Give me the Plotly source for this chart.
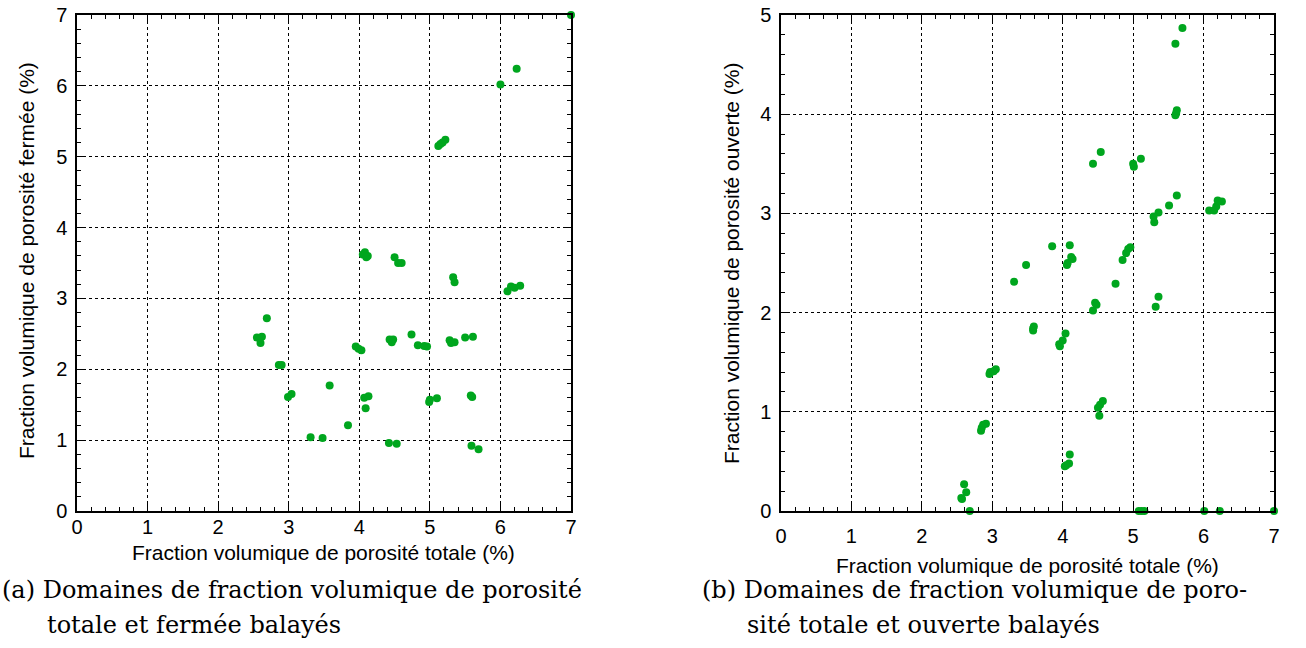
import plotly.graph_objects as go

# ---- data: (a) total vs closed porosity ----
tot_a = [7.00, 6.00, 6.23, 5.12, 5.15, 5.18, 5.22,
         4.05, 4.08, 4.12, 4.10, 4.50, 4.55, 4.60, 5.33, 5.35,
         6.10, 6.15, 6.20, 6.28,
         2.69, 2.55, 2.62, 2.60, 2.86, 2.90, 2.99, 3.04, 3.58, 3.31, 3.48, 3.84,
         3.95, 4.03, 3.99, 4.07, 4.13, 4.09, 4.43, 4.46, 4.48, 4.74, 4.83, 4.92, 4.96,
         4.42, 4.53, 4.99, 5.00, 5.10,
         5.28, 5.30, 5.35, 5.50, 5.61, 5.58, 5.60, 5.59, 5.69]
closed_a = [7.00, 6.02, 6.24, 5.15, 5.18, 5.20, 5.24,
            3.62, 3.65, 3.60, 3.58, 3.58, 3.50, 3.50, 3.30, 3.23,
            3.10, 3.17, 3.15, 3.18,
            2.72, 2.45, 2.46, 2.37, 2.06, 2.06, 1.61, 1.65, 1.77, 1.04, 1.03, 1.21,
            2.32, 2.27, 2.29, 1.60, 1.62, 1.45, 2.42, 2.38, 2.42, 2.49, 2.34, 2.33, 2.32,
            0.96, 0.95, 1.54, 1.57, 1.59,
            2.41, 2.37, 2.38, 2.45, 2.46, 1.63, 1.61, 0.92, 0.87]

# ---- data: (b) total vs open porosity ----
tot_b = [5.70, 5.60, 5.62, 5.60, 5.61, 4.54, 4.43, 5.00, 5.01, 5.11,
         5.62, 5.51, 5.36, 5.29, 5.30, 6.08, 6.15, 6.18, 6.20, 6.26,
         3.85, 4.10, 4.12, 4.14, 4.06, 4.07, 3.48, 3.31,
         4.96, 4.93, 4.90, 4.85, 4.75, 5.36, 5.32, 4.46, 4.48, 4.43,
         2.84, 2.85, 2.87, 2.91, 4.57, 4.53, 4.50, 4.52,
         4.10, 4.09, 4.03, 4.05, 2.60, 2.63, 2.56, 2.57, 2.68,
         5.08, 5.12, 5.16, 6.01, 6.23, 7.00,
         2.96, 2.97, 3.02, 3.05, 3.58, 3.58, 3.59, 4.04, 4.00, 3.95, 3.96]
open_b = [4.87, 4.71, 4.04, 3.99, 4.01, 3.62, 3.50, 3.50, 3.47, 3.55,
          3.18, 3.08, 3.01, 2.97, 2.91, 3.03, 3.03, 3.07, 3.13, 3.12,
          2.67, 2.68, 2.56, 2.54, 2.48, 2.50, 2.48, 2.31,
          2.66, 2.64, 2.60, 2.53, 2.29, 2.16, 2.06, 2.10, 2.08, 2.02,
          0.81, 0.84, 0.87, 0.88, 1.11, 1.07, 1.04, 0.96,
          0.57, 0.48, 0.45, 0.46, 0.27, 0.19, 0.13, 0.12, 0.00,
          0.00, 0.00, 0.00, 0.00, 0.00, 0.00,
          1.38, 1.40, 1.41, 1.43, 1.84, 1.82, 1.86, 1.79, 1.72, 1.68, 1.66]

x_ticks = [0, 1, 2, 3, 4, 5, 6, 7]
y_ticks_a = [0, 1, 2, 3, 4, 5, 6, 7]
y_ticks_b = [0, 1, 2, 3, 4, 5]

GREEN = "#00a61e"
W, H = 1306, 648

def px_x(p):
    return p / W

def px_y(p):
    return 1 - p / H

fig = go.Figure()
fig.add_trace(go.Scatter(x=tot_a, y=closed_a, mode="markers", xaxis="x", yaxis="y",
                         marker=dict(color=GREEN, size=8, line=dict(width=0)),
                         cliponaxis=False, showlegend=False))
fig.add_trace(go.Scatter(x=tot_b, y=open_b, mode="markers", xaxis="x2", yaxis="y2",
                         marker=dict(color=GREEN, size=8, line=dict(width=0)),
                         cliponaxis=False, showlegend=False))

tick_font = dict(family="Liberation Sans, Arial, sans-serif", size=20, color="black")

def axis_common():
    return dict(showline=True, linecolor="black", linewidth=1.5, mirror="ticks",
                ticks="inside", ticklen=8, tickcolor="black", tickwidth=1.2,
                showgrid=True, gridcolor="black", griddash="dot", gridwidth=1,
                zeroline=False, tickfont=tick_font, automargin=False,
                ticklabeloverflow="allow",
                minor=dict(ticks="inside", ticklen=4, dtick=0.2, tickcolor="black",
                           tickwidth=1, showgrid=False))

yd = [px_y(511), px_y(15)]
fig.update_layout(
    width=W, height=H, margin=dict(l=0, r=0, t=0, b=0, pad=0, autoexpand=False),
    paper_bgcolor="white", plot_bgcolor="white",
    xaxis=dict(**axis_common(), domain=[px_x(77), px_x(571)], range=[0, 7],
               tickvals=x_ticks, anchor="y", ticklabelstandoff=-3),
    yaxis=dict(**axis_common(), domain=yd, range=[0, 7], tickvals=y_ticks_a,
               anchor="x", ticklabelstandoff=4),
    xaxis2=dict(**axis_common(), domain=[px_x(781), px_x(1274)], range=[0, 7],
                tickvals=x_ticks, anchor="y2", ticklabelstandoff=6),
    yaxis2=dict(**axis_common(), domain=yd, range=[0, 5], tickvals=y_ticks_b,
                anchor="x2", ticklabelstandoff=4),
)

title_font = dict(family="Liberation Sans, Arial, sans-serif", size=21, color="black")
cap_font = dict(family="DejaVu Serif, serif", size=24, color="black")

annots = [
    dict(text="Fraction volumique de porosité totale (%)", x=px_x(323), y=px_y(552),
         font=title_font, xanchor="center", yanchor="middle"),
    dict(text="Fraction volumique de porosité totale (%)", x=px_x(1027), y=px_y(565),
         font=title_font, xanchor="center", yanchor="middle"),
    dict(text="Fraction volumique de porosité fermée (%)", x=px_x(26), y=px_y(261),
         font=title_font, textangle=-90, xanchor="center", yanchor="middle"),
    dict(text="Fraction volumique de porosité ouverte (%)", x=px_x(731), y=px_y(263),
         font=title_font, textangle=-90, xanchor="center", yanchor="middle"),
    dict(text="(a) Domaines de fraction volumique de porosité", x=px_x(0), y=px_y(590),
         font=cap_font, xanchor="left", yanchor="middle"),
    dict(text="totale et fermée balayés", x=px_x(45), y=px_y(625),
         font=cap_font, xanchor="left", yanchor="middle"),
    dict(text="(b) Domaines de fraction volumique de poro-", x=px_x(700), y=px_y(590),
         font=cap_font, xanchor="left", yanchor="middle"),
    dict(text="sité totale et ouverte balayés", x=px_x(745), y=px_y(625),
         font=cap_font, xanchor="left", yanchor="middle"),
]
for a in annots:
    fig.add_annotation(xref="paper", yref="paper", showarrow=False, **a)

fig.write_html("out.html", config={"displayModeBar": False},
               post_script="document.body.style.margin='0';")
